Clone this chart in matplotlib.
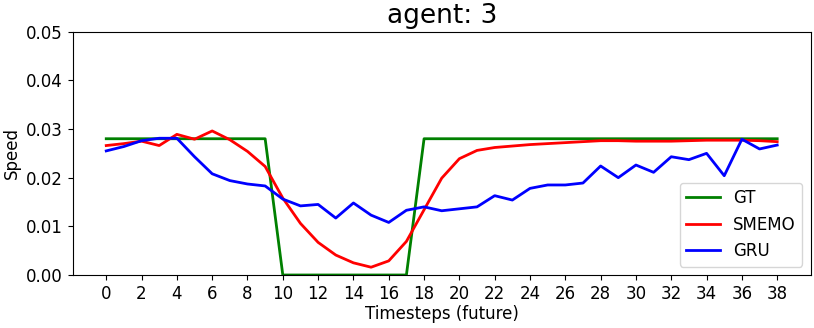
import numpy as np
import matplotlib
matplotlib.use("Agg")
import matplotlib.pyplot as plt

timesteps = list(range(39))

gt_speed = [0.028] * 10 + [0.0] * 8 + [0.028] * 21

smemo_speed = [0.0266, 0.0270, 0.0275, 0.0266, 0.0289, 0.0279, 0.0296, 0.0278, 0.0254, 0.0223,
               0.0158, 0.0106, 0.0067, 0.0041, 0.0025, 0.0016, 0.0029, 0.0069, 0.0134, 0.0199,
               0.0239, 0.0256, 0.0262, 0.0265, 0.0268, 0.0270, 0.0272, 0.0274, 0.0276, 0.0276,
               0.0275, 0.0275, 0.0275, 0.0276, 0.0277, 0.0277, 0.0277, 0.0276, 0.0274]

gru_speed = [0.0255, 0.0264, 0.0276, 0.0281, 0.0281, 0.0243, 0.0208, 0.0194, 0.0187, 0.0183,
             0.0156, 0.0142, 0.0145, 0.0117, 0.0148, 0.0123, 0.0108, 0.0133, 0.0140, 0.0132,
             0.0136, 0.0140, 0.0163, 0.0154, 0.0178, 0.0185, 0.0185, 0.0189, 0.0224, 0.0200,
             0.0226, 0.0211, 0.0243, 0.0237, 0.0250, 0.0204, 0.0279, 0.0259, 0.0267]

fig = plt.figure(figsize=(8.14, 3.28), dpi=100)
ax = fig.add_axes([0.0893, 0.1616, 0.9067, 0.7418])

ax.plot(timesteps, gt_speed, color="green", label="GT", linewidth=2)
ax.plot(timesteps, smemo_speed, color="red", label="SMEMO", linewidth=2)
ax.plot(timesteps, gru_speed, color="blue", label="GRU", linewidth=2)

ax.set_ylim(0, 0.05)
ax.set_xticks(np.arange(0, 39, 2))
ax.tick_params(labelsize=12)
ax.set_xlabel("Timesteps (future)", fontsize=12, labelpad=2)
ax.set_ylabel("Speed", fontsize=12)
ax.set_title("agent: 3", fontsize=19)
ax.legend(loc="lower right", fontsize=12)

fig.savefig("out.png", dpi=100)
